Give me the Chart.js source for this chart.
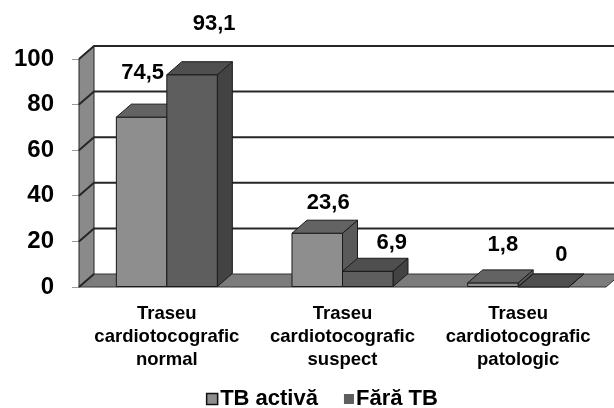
<!DOCTYPE html>
<html>
<head>
<meta charset="utf-8">
<script src="https://cdn.jsdelivr.net/npm/chart.js@4/dist/chart.umd.min.js"></script>
<style>
html,body{margin:0;padding:0;background:#fff;overflow:hidden}
#wrap{width:614px;height:408px;position:relative}
</style>
</head>
<body>
<div id="wrap"><canvas id="c" width="614" height="408"></canvas></div>
<script>
// ---- data ----
const categories = [
  ["Traseu", "cardiotocografic", "normal"],
  ["Traseu", "cardiotocografic", "suspect"],
  ["Traseu", "cardiotocografic", "patologic"]
];
const seriesNames = ["TB activă", "Fără TB"];
const tbActiva = [74.5, 23.6, 1.8];
const faraTB = [93.1, 6.9, 0];
const yTicks = [0, 20, 40, 60, 80, 100];

// ---- style ----
const FONT = "'Liberation Sans', Arial, sans-serif";
const DX = 15, DY = 13;
const palette = [
  { front: '#8e8e8e', top: '#636363', side: '#5a5a5a', legendBorder: '#111' },
  { front: '#5e5e5e', top: '#4f4f4f', side: '#434343', legendBorder: null }
];
const labelNudge = [
  [[1, -44], [11, -30], [10, -38]],
  [[22, -51], [24, -28], [18, -32]]
];

function fmt(v) { return String(v).replace('.', ','); }

function poly(ctx, pts, fill, stroke, lw) {
  ctx.beginPath();
  ctx.moveTo(pts[0][0], pts[0][1]);
  for (let i = 1; i < pts.length; i++) ctx.lineTo(pts[i][0], pts[i][1]);
  ctx.closePath();
  if (fill) { ctx.fillStyle = fill; ctx.fill(); }
  if (stroke) { ctx.strokeStyle = stroke; ctx.lineWidth = lw || 1; ctx.stroke(); }
}

const threeD = {
  id: 'threeD',
  beforeDatasetsDraw(chart) {
    const ctx = chart.ctx, a = chart.chartArea, y = chart.scales.y;
    const W = chart.width;
    ctx.save();
    const y0 = y.getPixelForValue(0);
    const yTop = y.getPixelForValue(yTicks[yTicks.length - 1]);
    // left wall
    poly(ctx, [[a.left, y0], [a.left, yTop], [a.left + DX, yTop - DY], [a.left + DX, y0 - DY]], '#8a8a8a', '#222', 1);
    // floor
    poly(ctx, [[a.left, y0], [a.right, y0], [a.right + DX, y0 - DY], [a.left + DX, y0 - DY]], '#7c7c7c', '#333', 1);
    // gridlines
    ctx.strokeStyle = '#262626';
    ctx.lineWidth = 2;
    yTicks.forEach(v => {
      const py = y.getPixelForValue(v);
      ctx.beginPath();
      ctx.moveTo(a.left, py);
      ctx.lineTo(a.left + DX, py - DY);
      if (v !== 0) ctx.lineTo(W, py - DY);
      ctx.stroke();
    });
    ctx.restore();
  },
  afterDatasetsDraw(chart) {
    const ctx = chart.ctx;
    const metas = [chart.getDatasetMeta(0), chart.getDatasetMeta(1)];
    ctx.save();
    const n = chart.data.labels.length;
    for (let i = 0; i < n; i++) {
      metas.forEach((m, d) => {
        const el = m.data[i];
        const c = palette[d];
        const l = el.x - el.width / 2, r = el.x + el.width / 2;
        const t = el.y, b = el.base;
        poly(ctx, [[r, b], [r, t], [r + DX, t - DY], [r + DX, b - DY]], c.side, '#1a1a1a', 1);
        if (b - t > 0.5) poly(ctx, [[l, b], [l, t], [r, t], [r, b]], c.front, '#1a1a1a', 1);
        poly(ctx, [[l, t], [r, t], [r + DX, t - DY], [l + DX, t - DY]], c.top, '#1a1a1a', 1);
      });
    }
    // value labels
    ctx.fillStyle = '#000';
    ctx.font = 'bold 22px ' + FONT;
    ctx.textAlign = 'center';
    ctx.textBaseline = 'middle';
    metas.forEach((m, d) => {
      const data = chart.data.datasets[d].data;
      m.data.forEach((el, i) => {
        const nd = labelNudge[d][i];
        ctx.fillText(fmt(data[i]), el.x + nd[0], el.y + nd[1]);
      });
    });
    // legend
    ctx.font = 'bold 22px ' + FONT;
    ctx.textAlign = 'left';
    const w0 = ctx.measureText(seriesNames[0]).width;
    const w1 = ctx.measureText(seriesNames[1]).width;
    const total = 12 + 2 + w0 + 26 + 10 + 2 + w1;
    let x = 322 - total / 2;
    const cy = 399;
    ctx.fillStyle = palette[0].front;
    ctx.fillRect(x, cy - 6, 12, 12);
    ctx.strokeStyle = palette[0].legendBorder;
    ctx.lineWidth = 1.5;
    ctx.strokeRect(x + 0.5, cy - 5.5, 11, 11);
    x += 14;
    ctx.fillStyle = '#000';
    ctx.fillText(seriesNames[0], x, cy);
    x += w0 + 26;
    ctx.fillStyle = palette[1].front;
    ctx.fillRect(x, cy - 5, 10, 10);
    x += 12;
    ctx.fillStyle = '#000';
    ctx.fillText(seriesNames[1], x, cy);
    ctx.restore();
  }
};

new Chart(document.getElementById('c').getContext('2d'), {
  type: 'bar',
  data: {
    labels: categories,
    datasets: [
      { label: seriesNames[0], data: tbActiva, backgroundColor: palette[0].front, borderWidth: 0 },
      { label: seriesNames[1], data: faraTB, backgroundColor: palette[1].front, borderWidth: 0 }
    ]
  },
  options: {
    responsive: false,
    animation: false,
    devicePixelRatio: 1,
    layout: { padding: { top: 59, right: 8, left: 0, bottom: 0 } },
    datasets: { bar: { categoryPercentage: 0.575, barPercentage: 1 } },
    plugins: { legend: { display: false }, tooltip: { enabled: false } },
    scales: {
      x: {
        grid: { display: false },
        border: { display: false },
        ticks: {
          color: '#000',
          font: { family: FONT, size: 18.5, weight: 'bold', lineHeight: 1.243 },
          padding: 7,
          maxRotation: 0,
          autoSkip: false
        },
        afterFit(s) { s.height = 121; }
      },
      y: {
        min: 0, max: 100,
        afterBuildTicks(s) { s.ticks = yTicks.map(v => ({ value: v })); },
        grid: { drawOnChartArea: false, tickLength: 7, color: '#9a9a9a', lineWidth: 1 },
        border: { display: false },
        ticks: {
          color: '#000',
          font: { family: FONT, size: 24, weight: 'bold' },
          padding: 18
        },
        afterFit(s) { s.width = 79; }
      }
    }
  },
  plugins: [threeD]
});
</script>
</body>
</html>
